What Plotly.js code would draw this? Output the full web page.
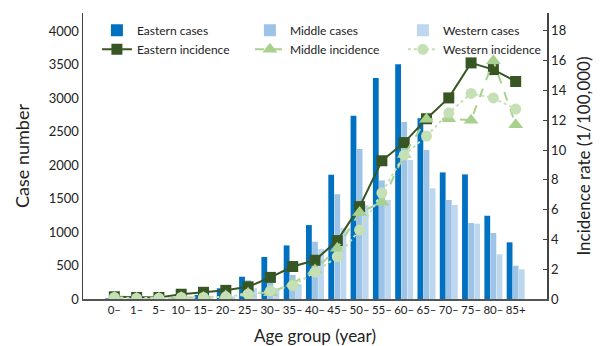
<!DOCTYPE html>
<html>
<head>
<meta charset="utf-8">
<script src="https://cdn.plot.ly/plotly-3.0.1.min.js"></script>
<style>html,body{margin:0;padding:0;background:#fff;}#chart{width:604px;height:346px;}</style>
</head>
<body>
<div id="chart"></div>
<script>
const ageGroups = ["0–","1–","5–","10–","15–","20–","25–","30–","35–","40–","45–","50–","55–","60–","65–","70–","75–","80–","85+"];
const easternCases = [10, 5, 10, 30, 60, 160, 333, 628, 800, 1104, 1855, 2735, 3300, 3505, 2697, 1890, 1860, 1243, 846];
const middleCases  = [5, 3, 5, 15, 30, 70, 280, 240, 360, 855, 1564, 2239, 1770, 2642, 2224, 1478, 1134, 985, 497];
const westernCases = [3, 2, 3, 10, 20, 40, 160, 160, 220, 745, 1060, 1400, 1478, 2075, 1652, 1403, 1124, 667, 443];
const easternIncidence = [0.15, 0.1, 0.1, 0.32, 0.45, 0.58, 0.82, 1.45, 2.18, 2.6, 3.92, 6.2, 9.28, 10.5, 12.1, 13.5, 15.85, 15.4, 14.6];
const middleIncidence  = [0.1, 0.05, 0.05, 0.1, 0.1, 0.2, 0.38, 0.42, 1.05, 1.95, 3.4, 5.8, 6.5, 9.7, 12.06, 12.1, 12.0, 16.0, 11.7];
const westernIncidence = [0.1, 0.05, 0.05, 0.1, 0.1, 0.15, 0.32, 0.55, 0.9, 1.8, 2.84, 4.63, 7.13, 9.66, 10.94, 12.5, 13.8, 13.5, 12.75];

const font = "Lato, 'Open Sans', sans-serif";
const traces = [
  {type:'bar', name:'Eastern cases', x:ageGroups, y:easternCases, marker:{color:'#0070C0'}},
  {type:'bar', name:'Middle cases', x:ageGroups, y:middleCases, marker:{color:'#9DC3E6'}},
  {type:'bar', name:'Western cases', x:ageGroups, y:westernCases, marker:{color:'#BDD7EE'}},
  {type:'scatter', mode:'lines+markers', name:'Eastern incidence', x:ageGroups, y:easternIncidence, yaxis:'y2',
    line:{color:'#375623', width:2}, marker:{symbol:'square', size:11, color:'#375623'}},
  {type:'scatter', mode:'lines+markers', name:'Middle incidence', x:ageGroups, y:middleIncidence, yaxis:'y2',
    line:{color:'#A9D18E', width:2, dash:'dash'}, marker:{symbol:'triangle-up', size:13, color:'#A9D18E'}},
  {type:'scatter', mode:'lines+markers', name:'Western incidence', x:ageGroups, y:westernIncidence, yaxis:'y2',
    line:{color:'#C5E0B4', width:2, dash:'dot'}, marker:{symbol:'circle', size:11, color:'#C5E0B4'}}
];
const layout = {
  width:604, height:346,
  margin:{l:83, r:57, t:13, b:47},
  paper_bgcolor:'#fff', plot_bgcolor:'#fff',
  font:{family:font, size:12, color:'#222'},
  barmode:'group', bargap:0.18, bargroupgap:0.05,
  showlegend:true,
  legend:{orientation:'h', x:0.03, y:0.99, xanchor:'left', yanchor:'top', entrywidth:108, entrywidthmode:'pixels',
    font:{family:font, size:12, color:'#222'}, bgcolor:'rgba(0,0,0,0)', tracegroupgap:0, itemwidth:30},
  xaxis:{type:'category', showline:true, linecolor:'#555', linewidth:1.5, ticks:'', showgrid:false, zeroline:false, tickangle:0,
    tickfont:{family:font, size:11.5}, title:{text:'Age group (year)', font:{family:font, size:17}, standoff:22}, automargin:false},
  yaxis:{range:[0,4270], tickvals:[0,500,1000,1500,2000,2500,3000,3500,4000], showline:true, linecolor:'#444', linewidth:1.5,
    showgrid:false, zeroline:false, ticks:'', tickfont:{family:font, size:13},
    title:{text:'Case number', font:{family:font, size:18}, standoff:14}, automargin:false},
  yaxis2:{overlaying:'y', side:'right', range:[0,19.2], tickvals:[0,2,4,6,8,10,12,14,16,18], showline:true, linecolor:'#444', linewidth:1.5,
    showgrid:false, zeroline:false, ticks:'inside', ticklen:4, tickcolor:'#444', tickfont:{family:font, size:13},
    title:{text:'Incidence rate (1/100,000)', font:{family:font, size:17}, standoff:12}, automargin:false}
};
Plotly.newPlot('chart', traces, layout, {displayModeBar:false, staticPlot:true});
</script>
</body>
</html>
